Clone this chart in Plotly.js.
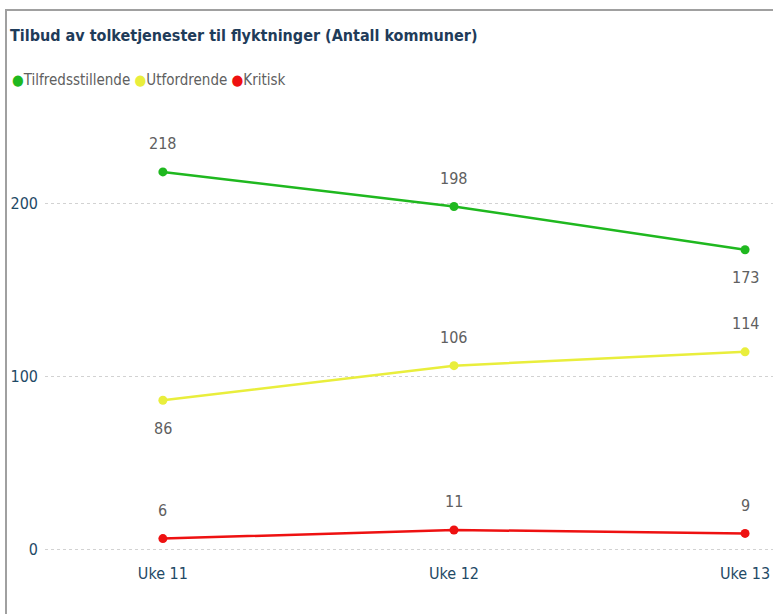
<!DOCTYPE html>
<html><head><meta charset="utf-8">
<script src="https://cdn.plot.ly/plotly-3.0.1.min.js"></script>
<style>
html,body{margin:0;padding:0;background:#fff;}
#frame{position:absolute;left:5px;top:9px;width:800px;height:700px;border-left:2px solid #a0a0a0;border-top:2px solid #a0a0a0;}
#chart{position:absolute;left:0;top:0;width:773px;height:614px;}
</style></head>
<body>
<div id="frame"></div>
<div id="chart"></div>
<script>
const weeks = ["Uke 11", "Uke 12", "Uke 13"];
const tilfreds = [218, 198, 173];
const utford = [86, 106, 114];
const kritisk = [6, 11, 9];
const names = ["Tilfredsstillende", "Utfordrende", "Kritisk"];
const colors = ["#1fb81f", "#e9ee3c", "#ee1111"];
const labelPos = [[1, 1, -1], [-1, 1, 1], [1, 1, 1]];

const FONT = '"Liberation Sans Narrow", "DejaVu Sans Condensed", "Roboto Condensed", "Arial Narrow", sans-serif';
const series = [tilfreds, utford, kritisk];

const traces = series.map((vals, i) => ({
  type: 'scatter', mode: 'lines+markers', x: weeks, y: vals, name: names[i],
  line: {color: colors[i], width: 2.5}, marker: {color: colors[i], size: 9},
  showlegend: false, hoverinfo: 'x+y'
}));

const annotations = [];
series.forEach((vals, i) => {
  vals.forEach((v, j) => {
    annotations.push({x: weeks[j], y: v, xref: 'x', yref: 'y', text: String(v), showarrow: false,
      yshift: labelPos[i][j] * 28, font: {family: FONT, size: 16, color: '#606060'}});
  });
});
const legText = names.map((n, i) => '<span style="color:' + colors[i] + '">●</span>' + n).join(' ');
annotations.push({xref: 'paper', yref: 'paper', x: -35 / 728, y: 1 + (110 - 80) / (614 - 110 - 54), xanchor: 'left', yanchor: 'middle',
  text: legText, showarrow: false, font: {family: FONT, size: 15, color: '#606060'}});

const layout = {
  width: 773, height: 614,
  paper_bgcolor: 'rgba(0,0,0,0)', plot_bgcolor: 'rgba(0,0,0,0)',
  margin: {l: 45, r: 0, t: 110, b: 54},
  title: {text: 'Tilbud av tolketjenester til flyktninger (Antall kommuner)', xref: 'container', x: 10/773, xanchor: 'left',
    yref: 'container', y: 1 - 35/614, yanchor: 'middle', font: {family: FONT, size: 16, color: '#1f3c5a', weight: 'bold'}},
  xaxis: {type: 'category', range: [-0.405, 2.096], showgrid: false, zeroline: false, showline: false,
    tickfont: {family: FONT, size: 16, color: '#1f4a66'}, ticks: '', ticklabelstandoff: 2},
  yaxis: {range: [-6.36, 253.8], tickvals: [0, 100, 200], showgrid: true, gridcolor: '#d2d2d2', griddash: 'dot', gridwidth: 1,
    zeroline: false, showline: false, tickfont: {family: FONT, size: 16, color: '#1f4a66'}, ticks: '', ticklabelstandoff: 6},
  annotations: annotations,
  showlegend: false
};

Plotly.newPlot('chart', traces, layout, {displayModeBar: false});
</script>
</body></html>
